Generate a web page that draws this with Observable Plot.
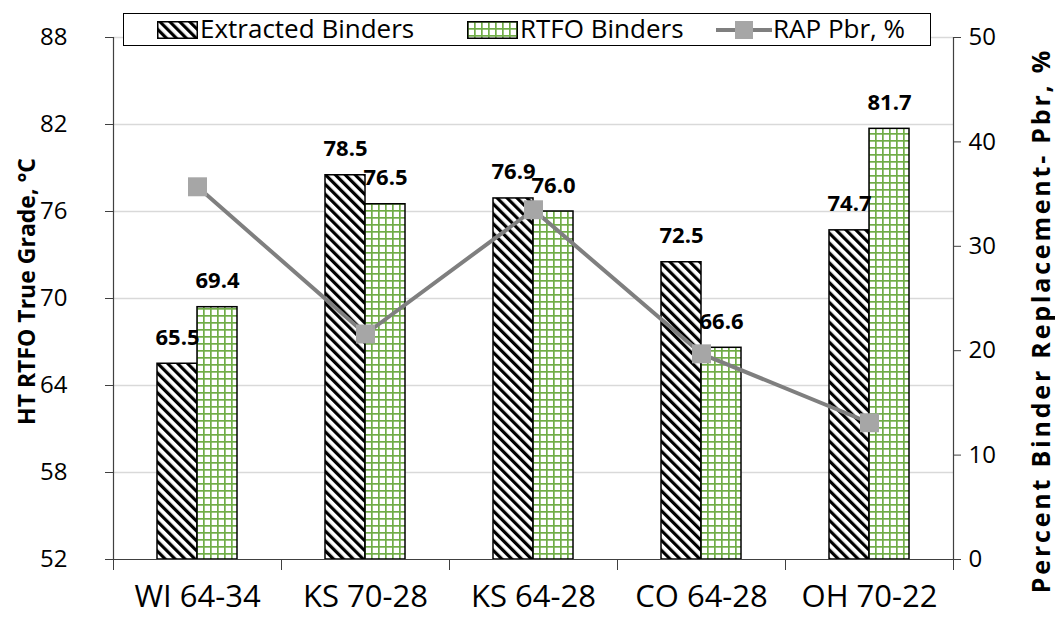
<!DOCTYPE html>
<html><head><meta charset="utf-8">
<script src="https://cdn.jsdelivr.net/npm/d3@7"></script>
<script src="https://cdn.jsdelivr.net/npm/@observablehq/plot@0.6"></script>
<style>
body{margin:0;background:#fff;font-family:"Open Sans",sans-serif}
#wrap{position:relative;width:1055px;height:622px;overflow:hidden}
#legend{position:absolute;left:123px;top:13px;width:806px;height:31px;border:1.5px solid #000;background:#fff;font-size:26px;color:#000;line-height:1}
#legend .sw{position:absolute;display:block}
#legend .lb{position:absolute;top:1px;white-space:nowrap}
.rtitle text{letter-spacing:2.8px}
</style></head><body><div id="wrap"></div>
<script>
const categories = ["WI 64-34","KS 70-28","KS 64-28","CO 64-28","OH 70-22"];
const extracted = [65.5,78.5,76.9,72.5,74.7];
const rtfo = [69.4,76.5,76.0,66.6,81.7];
const pbr = [35.7,21.6,33.5,19.7,13.1];
const leftTicks = [52,58,64,70,76,82,88];
const rightTicks = [0,10,20,30,40,50];
const seriesNames = ["Extracted Binders","RTFO Binders","RAP Pbr, %"];
const leftTitle = "HT RTFO True Grade, °C";
const rightTitle = "Percent Binder Replacement- Pbr, %";

const yMin = 52, yMax = 88, pMax = 50;
const toLeft = p => yMin + p * (yMax - yMin) / pMax;
const fromLeft = v => Math.round((v - yMin) * pMax / (yMax - yMin));
const bw = 40 / 168;
const rows = categories.map((c, i) => ({c, i, ext: extracted[i], rtfo: rtfo[i], pbr: pbr[i]}));
const axisColor = "#404040";

const plot = Plot.plot({
  width: 1055, height: 622,
  marginLeft: 113, marginRight: 102, marginTop: 37, marginBottom: 63,
  style: {fontFamily: '"Open Sans", sans-serif', background: "#fff", overflow: "visible", color: "#000"},
  x: {type: "linear", domain: [0, 5]},
  y: {domain: [yMin, yMax]},
  marks: [
    Plot.ruleY(leftTicks.filter(t => t > yMin), {stroke: "#d9d9d9", strokeWidth: 1.5}),
    Plot.rectY(rows, {x1: d => d.i + 0.5 - bw, x2: d => d.i + 0.5, y1: yMin, y2: "ext", fill: "url(#hatch)", stroke: "#000", strokeWidth: 1.5}),
    Plot.rectY(rows, {x1: d => d.i + 0.5, x2: d => d.i + 0.5 + bw, y1: yMin, y2: "rtfo", fill: "url(#grid)", stroke: "#000", strokeWidth: 1.5}),
    Plot.ruleX([0, 5], {stroke: axisColor, strokeWidth: 1.2}),
    Plot.ruleY([yMin], {stroke: axisColor, strokeWidth: 1.2}),
    Plot.axisY({anchor: "left", ticks: leftTicks, tickSize: 8, tickPadding: 38, fontSize: 24, label: null, stroke: axisColor}),
    Plot.axisY({anchor: "right", ticks: rightTicks.map(toLeft), tickFormat: fromLeft, tickSize: 7, tickPadding: 8, fontSize: 24, label: null, stroke: axisColor}),
    Plot.axisX({ticks: [0,1,2,3,4,5], tickSize: 11, tickFormat: () => "", label: null, stroke: axisColor}),
    Plot.axisX({ticks: categories.map((c, i) => i + 0.5), tickSize: 0, tickPadding: 25, tickFormat: v => categories[Math.floor(v)], fontSize: 31, label: null}),
    Plot.line(rows, {x: d => d.i + 0.5, y: d => toLeft(d.pbr), stroke: "#7f7f7f", strokeWidth: 4}),
    Plot.dot(rows, {x: d => d.i + 0.5, y: d => toLeft(d.pbr), symbol: "square", r: 10.7, fill: "#a6a6a6", stroke: "none"}),
    Plot.text(rows, {x: d => d.i + 0.5 - bw / 2, y: "ext", text: d => d.ext.toFixed(1), dy: -19, lineAnchor: "bottom", fontWeight: "bold", fontSize: 22, fill: "#000"}),
    Plot.text(rows, {x: d => d.i + 0.5 + bw / 2, y: "rtfo", text: d => d.rtfo.toFixed(1), dy: -19, lineAnchor: "bottom", fontWeight: "bold", fontSize: 22, fill: "#000"}),
    Plot.text([leftTitle], {frameAnchor: "left", textAnchor: "middle", lineAnchor: "middle", rotate: -90, dx: -86, dy: -7, fontWeight: "bold", fontSize: 23, fill: "#000"}),
    Plot.text([rightTitle], {frameAnchor: "right", textAnchor: "middle", lineAnchor: "middle", rotate: -90, dx: 88, dy: 22, fontWeight: "bold", fontSize: 25, fill: "#000", className: "rtitle"})
  ]
});

const svg = d3.select(plot);
const defs = svg.insert("defs", ":first-child");
const hatch = defs.append("pattern").attr("id", "hatch").attr("patternUnits", "userSpaceOnUse")
  .attr("width", 7).attr("height", 7).attr("patternTransform", "rotate(-45)");
hatch.append("rect").attr("width", 7).attr("height", 7).attr("fill", "#fff");
hatch.append("rect").attr("width", 3.2).attr("height", 7).attr("fill", "#000");
const grid = defs.append("pattern").attr("id", "grid").attr("patternUnits", "userSpaceOnUse")
  .attr("width", 7).attr("height", 7);
grid.append("rect").attr("width", 7).attr("height", 7).attr("fill", "#fff");
grid.append("rect").attr("x", 0).attr("width", 1.7).attr("height", 7).attr("fill", "#70ad47");
grid.append("rect").attr("y", 0).attr("width", 7).attr("height", 1.7).attr("fill", "#70ad47");
svg.selectAll(".rtitle text").style("letter-spacing", "2.8px");

const wrap = document.getElementById("wrap");
wrap.appendChild(plot);

const legend = document.createElement("div");
legend.id = "legend";
// swatch left offsets / label left offsets inside the legend box (layout only)
const swLeft = [33, 343, 592], lbLeft = [76, 396, 649];
const sw = [
  `<svg class="sw" style="left:${swLeft[0]}px;top:7px" width="41" height="18"><rect x="0.75" y="0.75" width="39.5" height="16.5" fill="url(#hatch)" stroke="#000" stroke-width="1.5"/></svg>`,
  `<svg class="sw" style="left:${swLeft[1]}px;top:7px" width="51" height="18"><rect x="0.75" y="0.75" width="49.5" height="16.5" fill="url(#grid)" stroke="#000" stroke-width="1.5"/></svg>`,
  `<svg class="sw" style="left:${swLeft[2]}px;top:6px" width="56" height="20"><line x1="0" y1="10" x2="56" y2="10" stroke="#7f7f7f" stroke-width="4"/><rect x="19" y="1" width="18" height="18" fill="#a6a6a6"/></svg>`
];
seriesNames.forEach((n, k) => {
  legend.insertAdjacentHTML("beforeend", sw[k] + `<span class="lb" style="left:${lbLeft[k]}px">${n}</span>`);
});
wrap.appendChild(legend);
</script></body></html>
